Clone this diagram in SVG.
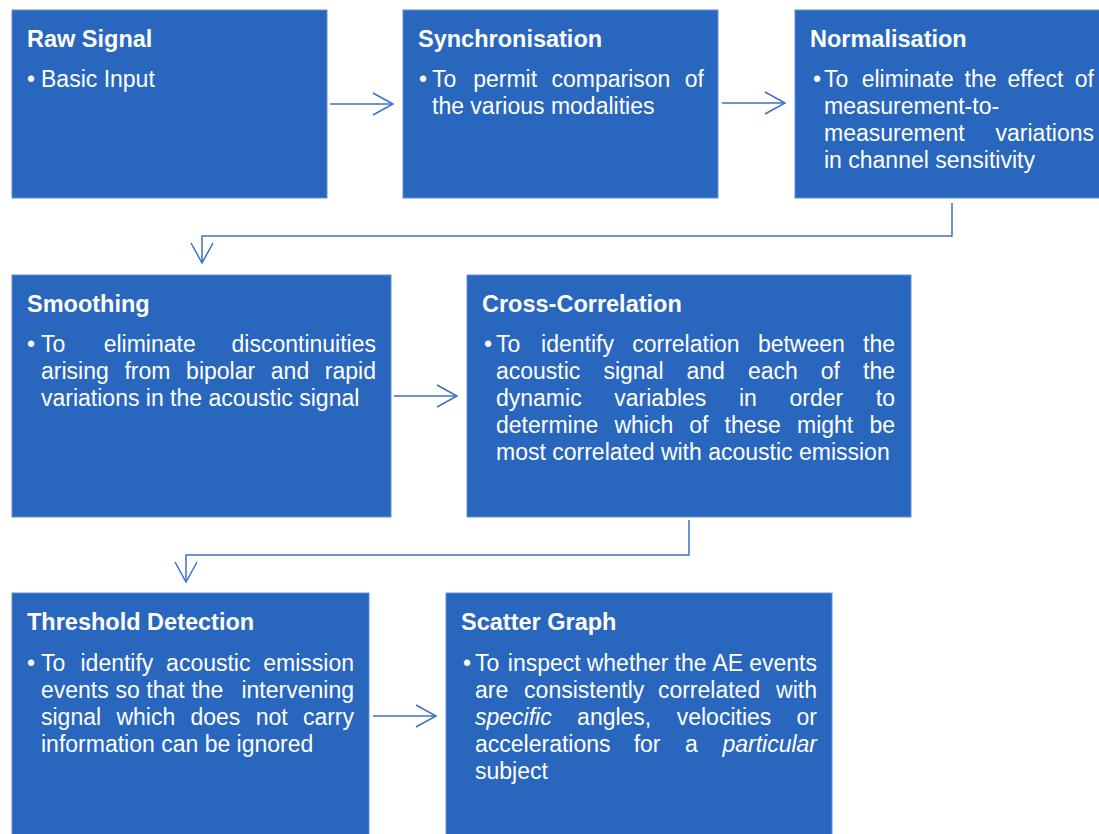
<svg xmlns="http://www.w3.org/2000/svg" width="1099" height="834" viewBox="0 0 1099 834">
<style>
.box{fill:#2966BE;stroke:#5F8FD6;stroke-width:1}
.t{font-family:"Liberation Sans",Arial,sans-serif;font-weight:bold;font-size:23.5px;fill:#fff}
.b{font-family:"Liberation Sans",Arial,sans-serif;font-size:23px;fill:#fff}
.e{text-anchor:end}
.i{font-style:italic}
.c{fill:none;stroke:#3C70C8;stroke-width:1.5}
</style>
<defs>
<marker id="arr" markerUnits="userSpaceOnUse" markerWidth="24" markerHeight="26" refX="21" refY="12" orient="auto" viewBox="0 0 24 26">
<path d="M1,1 L21,12 L1,23" fill="none" stroke="#3C70C8" stroke-width="1.5"/>
</marker>
</defs>
<rect width="1099" height="834" fill="#fff"/>
<g id="connectors">
<path class="c" d="M330,104 H393" marker-end="url(#arr)"/>
<path class="c" d="M722,103 H785" marker-end="url(#arr)"/>
<path class="c" d="M952,203 V236 H202 V263" marker-end="url(#arr)"/>
<path class="c" d="M394,396 H457" marker-end="url(#arr)"/>
<path class="c" d="M689,520 V555 H186 V582" marker-end="url(#arr)"/>
<path class="c" d="M373,716 H436" marker-end="url(#arr)"/>
</g>
<g id="raw-signal">
<rect class="box" x="12" y="10" width="315" height="188"/>
<text class="t" x="27" y="47">Raw Signal</text>
<text class="b" x="27" y="87">•</text>
<text class="b" x="41" y="87">Basic Input</text>
</g>
<g id="synchronisation">
<rect class="box" x="403" y="10" width="315" height="188"/>
<text class="t" x="418" y="47">Synchronisation</text>
<text class="b" x="419" y="87">•</text>
<text class="b" y="87"><tspan x="432">To</tspan><tspan x="473.2">permit</tspan><tspan x="551.5">comparison</tspan></text>
<text class="b e" x="704" y="87">of</text>
<text class="b" x="432" y="114">the various modalities</text>
</g>
<g id="normalisation">
<rect class="box" x="795" y="10" width="310" height="188"/>
<text class="t" x="810" y="47">Normalisation</text>
<text class="b" x="813" y="87">•</text>
<text class="b" y="87"><tspan x="824">To</tspan><tspan x="861.7">eliminate</tspan><tspan x="964.6">the</tspan><tspan x="1007.5">effect</tspan></text>
<text class="b e" x="1094" y="87">of</text>
<text class="b" x="824" y="114">measurement-to-</text>
<text class="b" x="824" y="141">measurement</text>
<text class="b e" x="1094" y="141">variations</text>
<text class="b" x="824" y="168">in channel sensitivity</text>
</g>
<g id="smoothing">
<rect class="box" x="12" y="275" width="379" height="242"/>
<text class="t" x="27" y="312">Smoothing</text>
<text class="b" x="27" y="352">•</text>
<text class="b" y="352"><tspan x="41">To</tspan><tspan x="103.7">eliminate</tspan></text>
<text class="b e" x="376" y="352">discontinuities</text>
<text class="b" y="379"><tspan x="41">arising</tspan><tspan x="124.4">from</tspan><tspan x="186.1">bipolar</tspan><tspan x="270.8">and</tspan></text>
<text class="b e" x="376" y="379">rapid</text>
<text class="b" x="41" y="406">variations in the acoustic signal</text>
</g>
<g id="cross-correlation">
<rect class="box" x="467" y="275" width="444" height="242"/>
<text class="t" x="482" y="312">Cross-Correlation</text>
<text class="b" x="484" y="352">•</text>
<text class="b" y="352"><tspan x="496">To</tspan><tspan x="541.1">identify</tspan><tspan x="632.2">correlation</tspan><tspan x="757.9">between</tspan></text>
<text class="b e" x="895" y="352">the</text>
<text class="b" y="379"><tspan x="496">acoustic</tspan><tspan x="603.4">signal</tspan><tspan x="686.5">and</tspan><tspan x="747.9">each</tspan><tspan x="820.8">of</tspan></text>
<text class="b e" x="895" y="379">the</text>
<text class="b" y="406"><tspan x="496">dynamic</tspan><tspan x="614.3">variables</tspan><tspan x="738.9">in</tspan><tspan x="789.5">order</tspan></text>
<text class="b e" x="895" y="406">to</text>
<text class="b" y="433"><tspan x="496">determine</tspan><tspan x="614.4">which</tspan><tspan x="689.3">of</tspan><tspan x="724.6">these</tspan><tspan x="797">might</tspan></text>
<text class="b e" x="895" y="433">be</text>
<text class="b" x="496" y="460">most correlated with acoustic emission</text>
</g>
<g id="threshold-detection">
<rect class="box" x="12" y="593" width="357" height="250"/>
<text class="t" x="27" y="630">Threshold Detection</text>
<text class="b" x="27" y="671">•</text>
<text class="b" y="671"><tspan x="41">To</tspan><tspan x="80.5">identify</tspan><tspan x="166.1">acoustic</tspan></text>
<text class="b e" x="354" y="671">emission</text>
<text class="b" y="698"><tspan x="41">events</tspan><tspan x="115.4">so</tspan><tspan x="146.3">that</tspan><tspan x="191.4">the</tspan></text>
<text class="b e" x="354" y="698">intervening</text>
<text class="b" y="725"><tspan x="41">signal</tspan><tspan x="116.4">which</tspan><tspan x="190.5">does</tspan><tspan x="255.7">not</tspan></text>
<text class="b e" x="354" y="725">carry</text>
<text class="b" x="41" y="752">information can be ignored</text>
</g>
<g id="scatter-graph">
<rect class="box" x="446" y="593" width="386" height="250"/>
<text class="t" x="461" y="630">Scatter Graph</text>
<text class="b" x="463" y="671">•</text>
<text class="b" y="671"><tspan x="475">To</tspan><tspan x="507.8">inspect</tspan><tspan x="586.7">whether</tspan><tspan x="674.5">the</tspan><tspan x="712.5">AE</tspan></text>
<text class="b e" x="817" y="671">events</text>
<text class="b" y="698"><tspan x="475">are</tspan><tspan x="524.1">consistently</tspan><tspan x="657.9">correlated</tspan></text>
<text class="b e" x="817" y="698">with</text>
<text class="b" y="725"><tspan class="i" x="475">specific</tspan><tspan x="577.1">angles,</tspan><tspan x="676.7">velocities</tspan></text>
<text class="b e" x="817" y="725">or</text>
<text class="b" y="752"><tspan x="475">accelerations</tspan><tspan x="633.7">for</tspan><tspan x="685">a</tspan></text>
<text class="b e i" x="817" y="752">particular</text>
<text class="b" x="475" y="779">subject</text>
</g>
</svg>
